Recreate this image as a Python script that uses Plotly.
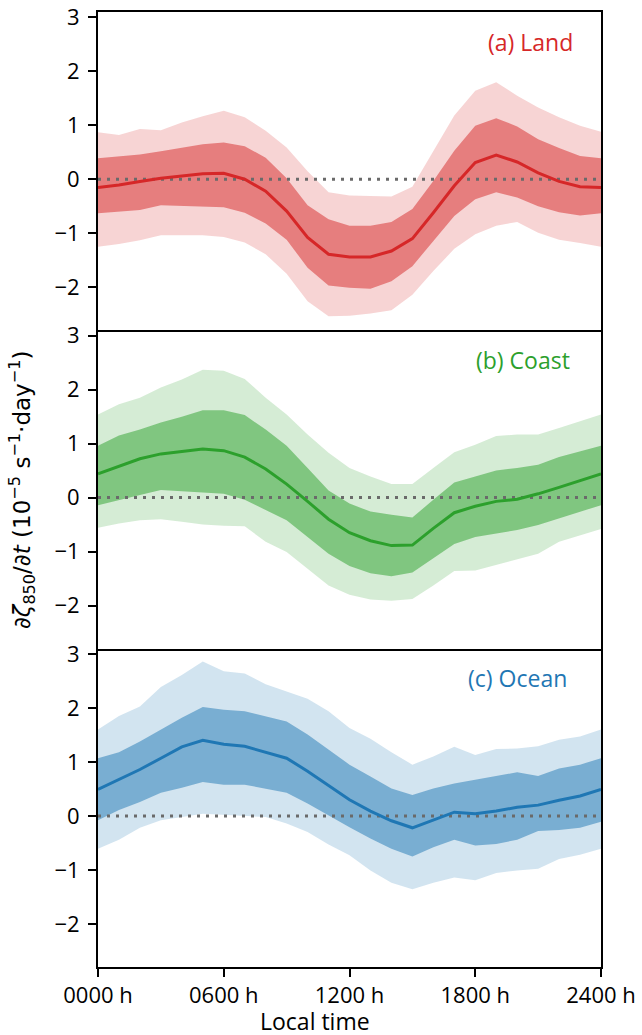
import plotly.graph_objects as go
from plotly.subplots import make_subplots

hours = list(range(25))
tick_vals = [0, 6, 12, 18, 24]
tick_text = ["0000 h", "0600 h", "1200 h", "1800 h", "2400 h"]
y_ticks = [-2, -1, 0, 1, 2, 3]

# Land
land_med = [-0.155, -0.105, -0.04, 0.02, 0.06, 0.10, 0.11, 0.0, -0.22, -0.59, -1.08, -1.39, -1.44,
            -1.44, -1.33, -1.10, -0.62, -0.12, 0.31, 0.45, 0.32, 0.12, -0.04, -0.14, -0.155]
land_q_hi = [0.39, 0.42, 0.46, 0.52, 0.58, 0.65, 0.68, 0.61, 0.40, 0.02, -0.48, -0.74, -0.86,
             -0.86, -0.79, -0.55, -0.03, 0.53, 0.99, 1.13, 0.98, 0.74, 0.58, 0.43, 0.39]
land_q_lo = [-0.63, -0.60, -0.57, -0.48, -0.50, -0.51, -0.52, -0.62, -0.82, -1.12, -1.64, -1.97, -2.01,
             -2.03, -1.89, -1.61, -1.15, -0.68, -0.37, -0.24, -0.34, -0.50, -0.61, -0.67, -0.63]
land_p_hi = [0.87, 0.82, 0.93, 0.91, 1.05, 1.17, 1.27, 1.15, 0.90, 0.59, 0.15, -0.24, -0.30,
             -0.31, -0.32, -0.14, 0.53, 1.18, 1.64, 1.80, 1.55, 1.33, 1.15, 0.99, 0.88]
land_p_lo = [-1.25, -1.20, -1.13, -1.04, -1.04, -1.04, -1.07, -1.17, -1.39, -1.75, -2.26, -2.54, -2.53,
             -2.49, -2.43, -2.14, -1.70, -1.29, -1.02, -0.86, -0.79, -0.99, -1.12, -1.18, -1.25]

# Coast
coast_med = [0.44, 0.58, 0.72, 0.81, 0.85, 0.90, 0.87, 0.75, 0.53, 0.25, -0.07, -0.40, -0.65,
             -0.80, -0.89, -0.88, -0.57, -0.28, -0.16, -0.07, -0.03, 0.07, 0.19, 0.32, 0.44]
coast_q_hi = [0.96, 1.15, 1.26, 1.39, 1.50, 1.62, 1.62, 1.53, 1.26, 0.96, 0.55, 0.13, -0.11,
              -0.26, -0.32, -0.37, -0.04, 0.28, 0.39, 0.50, 0.55, 0.61, 0.75, 0.85, 0.96]
coast_q_lo = [-0.14, -0.04, 0.05, 0.14, 0.11, 0.09, 0.07, -0.04, -0.23, -0.42, -0.73, -1.04, -1.27,
              -1.40, -1.46, -1.39, -1.13, -0.86, -0.73, -0.66, -0.60, -0.51, -0.39, -0.26, -0.14]
coast_p_hi = [1.54, 1.73, 1.85, 2.04, 2.19, 2.37, 2.35, 2.20, 1.85, 1.54, 1.17, 0.83, 0.55,
              0.39, 0.25, 0.25, 0.55, 0.84, 0.98, 1.14, 1.17, 1.17, 1.29, 1.42, 1.54]
coast_p_lo = [-0.56, -0.48, -0.42, -0.40, -0.45, -0.50, -0.52, -0.53, -0.82, -1.01, -1.32, -1.63, -1.80,
              -1.89, -1.91, -1.88, -1.63, -1.36, -1.35, -1.24, -1.14, -1.04, -0.82, -0.70, -0.58]

# Ocean
ocean_med = [0.49, 0.67, 0.86, 1.07, 1.28, 1.40, 1.33, 1.29, 1.18, 1.07, 0.83, 0.56, 0.30,
             0.09, -0.09, -0.22, -0.08, 0.07, 0.04, 0.09, 0.16, 0.20, 0.29, 0.37, 0.49]
ocean_q_hi = [1.07, 1.18, 1.38, 1.60, 1.82, 2.02, 1.97, 1.94, 1.85, 1.75, 1.51, 1.23, 0.95,
              0.73, 0.51, 0.39, 0.51, 0.60, 0.67, 0.74, 0.81, 0.74, 0.88, 0.95, 1.07]
ocean_q_lo = [-0.08, 0.11, 0.26, 0.43, 0.52, 0.63, 0.58, 0.58, 0.50, 0.43, 0.23, 0.01, -0.21,
              -0.42, -0.61, -0.75, -0.58, -0.44, -0.55, -0.52, -0.44, -0.28, -0.26, -0.22, -0.11]
ocean_p_hi = [1.60, 1.85, 2.03, 2.39, 2.61, 2.86, 2.68, 2.64, 2.44, 2.31, 2.17, 1.94, 1.63,
              1.43, 1.18, 0.95, 1.10, 1.28, 1.13, 1.24, 1.25, 1.29, 1.41, 1.47, 1.60]
ocean_p_lo = [-0.61, -0.44, -0.22, -0.08, -0.02, 0.04, 0.02, 0.0, -0.02, -0.14, -0.30, -0.53, -0.73,
              -1.01, -1.24, -1.36, -1.24, -1.14, -1.19, -1.06, -1.01, -0.98, -0.80, -0.72, -0.61]

panels = [
    ("(a) Land", (214, 39, 40), land_med, land_q_lo, land_q_hi, land_p_lo, land_p_hi, 22.78),
    ("(b) Coast", (44, 160, 44), coast_med, coast_q_lo, coast_q_hi, coast_p_lo, coast_p_hi, 22.6),
    ("(c) Ocean", (31, 119, 180), ocean_med, ocean_q_lo, ocean_q_hi, ocean_p_lo, ocean_p_hi, 22.45),
]

FONT = "Open Sans"
fig = make_subplots(rows=3, cols=1, shared_xaxes=True, vertical_spacing=0)

for i, (label, rgb, med, qlo, qhi, plo, phi, lx) in enumerate(panels, start=1):
    r, g, b = rgb
    xs = hours + hours[::-1]
    fig.add_trace(go.Scatter(x=xs, y=phi + plo[::-1], fill="toself", mode="lines",
                             line=dict(width=0), fillcolor=f"rgba({r},{g},{b},0.2)",
                             hoverinfo="skip", showlegend=False), row=i, col=1)
    fig.add_trace(go.Scatter(x=xs, y=qhi + qlo[::-1], fill="toself", mode="lines",
                             line=dict(width=0), fillcolor=f"rgba({r},{g},{b},0.5)",
                             hoverinfo="skip", showlegend=False), row=i, col=1)
    fig.add_trace(go.Scatter(x=[0, 24], y=[0, 0], mode="lines",
                             line=dict(color="#6a6a6a", width=3, dash="3px,6px"),
                             hoverinfo="skip", showlegend=False), row=i, col=1)
    fig.add_trace(go.Scatter(x=hours, y=med, mode="lines",
                             line=dict(color=f"rgb({r},{g},{b})", width=3),
                             showlegend=False), row=i, col=1)
    fig.add_annotation(x=lx, y=2.55, xref=f"x{'' if i == 1 else i}", yref=f"y{'' if i == 1 else i}",
                       text=label, showarrow=False, xanchor="right", yanchor="middle",
                       font=dict(family=FONT, size=23, color=f"rgb({r},{g},{b})"))
    fig.update_yaxes(range=[-2.8, 3.1], tickvals=y_ticks, ticks="outside", ticklen=8, tickwidth=2,
                     tickcolor="black", showline=True, linecolor="black", linewidth=2, mirror=True,
                     showgrid=False, zeroline=False, automargin=False, ticklabelstandoff=4,
                     tickfont=dict(family=FONT, size=22, color="black"),
                     row=i, col=1)
    fig.update_xaxes(range=[0, 24], showline=True, linecolor="black", linewidth=2,
                     mirror=(i == 1), automargin=False,
                     showgrid=False, zeroline=False, row=i, col=1)

fig.update_xaxes(tickvals=tick_vals, ticktext=tick_text, ticks="outside", ticklen=8, tickwidth=2,
                 tickcolor="black", tickfont=dict(family=FONT, size=22, color="black"),
                 row=3, col=1)
fig.update_xaxes(showticklabels=False, ticks="", row=1, col=1)
fig.update_xaxes(showticklabels=False, ticks="", row=2, col=1)

fig.add_annotation(x=0.4324, y=-0.0562, xref="paper", yref="paper", showarrow=False,
                   text="Local time", xanchor="center", yanchor="middle", borderpad=0,
                   font=dict(family=FONT, size=23, color="black"))

fig.add_annotation(x=-0.152, y=0.5, xref="paper", yref="paper", textangle=-90, showarrow=False,
                   text="∂<i>ζ</i><sub>850</sub>/∂<i>t</i> (10<sup>−5</sup> s<sup>−1</sup>·day<sup>−1</sup>)",
                   font=dict(family="DejaVu Sans", size=23, color="black"),
                   xanchor="center", yanchor="middle")

fig.update_layout(width=642, height=1035, margin=dict(l=98, r=41, t=12, b=68, autoexpand=False),
                  plot_bgcolor="white", paper_bgcolor="white")

fig.write_html("out.html")
